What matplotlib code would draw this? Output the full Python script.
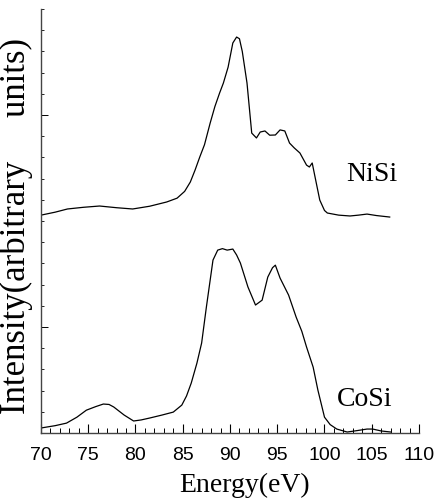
import matplotlib
matplotlib.use("Agg")
import matplotlib.pyplot as plt
from matplotlib.ticker import MultipleLocator, FixedLocator

# NiSi spectrum (upper curve), energy in eV, intensity in arbitrary units
nisi_energy = [70.0, 71.5, 72.8, 74.5, 76.2, 78.0, 79.7, 81.5, 83.3, 84.4, 85.2,
               85.8, 86.3, 86.8, 87.3, 87.9, 88.4, 88.9, 89.3, 89.8, 90.3, 90.7,
               91.0, 91.3, 91.8, 92.3, 92.8, 93.2, 93.7, 94.2, 94.8, 95.3, 95.8,
               96.3, 96.8, 97.4, 98.1, 98.4, 98.7, 99.0, 99.5, 100.0, 100.3,
               101.5, 102.7, 103.6, 104.5, 105.5, 106.9]
nisi_counts = [10.28, 10.42, 10.57, 10.65, 10.71, 10.63, 10.57, 10.70, 10.90, 11.08, 11.40,
               11.84, 12.40, 13.02, 13.60, 14.62, 15.40, 16.04, 16.51, 17.26, 18.40, 18.68,
               18.60, 18.00, 16.51, 14.15, 13.92, 14.20, 14.25, 14.05, 14.06, 14.30, 14.25,
               13.68, 13.45, 13.21, 12.64, 12.55, 12.74, 12.08, 10.99, 10.50, 10.38,
               10.28, 10.24, 10.28, 10.33, 10.26, 10.19]

# CoSi spectrum (lower curve)
cosi_energy = [70.0, 71.5, 72.7, 73.8, 74.8, 75.8, 76.6, 77.2, 77.7, 78.8, 79.8,
               80.6, 81.5, 82.8, 84.0, 84.9, 85.4, 85.9, 86.5, 87.0, 87.5, 88.2,
               88.7, 89.2, 89.7, 90.3, 90.7, 91.1, 91.9, 92.7, 93.4, 94.0, 94.5,
               94.8, 95.3, 96.2, 97.0, 97.6, 98.1, 98.8, 99.3, 100.0, 100.6,
               101.3, 102.4, 103.5, 104.5, 105.1, 106.0, 107.0]
cosi_counts = [0.24, 0.35, 0.47, 0.75, 1.08, 1.25, 1.37, 1.35, 1.23, 0.85, 0.57,
               0.62, 0.71, 0.85, 0.99, 1.32, 1.75, 2.36, 3.30, 4.25, 5.94, 8.16,
               8.63, 8.70, 8.63, 8.68, 8.40, 8.02, 6.89, 6.04, 6.27, 7.36, 7.80,
               7.92, 7.31, 6.51, 5.47, 4.80, 4.06, 3.11, 2.03, 0.75, 0.40,
               0.19, 0.05, 0.12, 0.19, 0.19, 0.10, 0.05]

sample_labels = ["NiSi", "CoSi"]
label_pos = [(105.0, 12.2), (104.3, 1.6)]

fig = plt.figure(figsize=(4.37, 5.03), dpi=100)
ax = fig.add_axes([0.0938, 0.139, 0.865, 0.843])

ax.plot(nisi_energy, nisi_counts, color="black", linewidth=0.9)
ax.plot(cosi_energy, cosi_counts, color="black", linewidth=0.9)

for name, (x, y) in zip(sample_labels, label_pos):
    ax.text(x, y, name, ha="center", va="center", fontsize=20,
            family="Liberation Serif")

ax.set_xlim(70, 110)
ax.set_ylim(0, 20)

ax.spines["top"].set_visible(False)
ax.spines["right"].set_visible(False)
for side in ("left", "bottom"):
    ax.spines[side].set_linewidth(1.0)
    ax.spines[side].set_color("#444444")

ax.xaxis.set_major_locator(MultipleLocator(5))
ax.xaxis.set_minor_locator(MultipleLocator(1))
ax.yaxis.set_major_locator(FixedLocator([5, 15]))
ax.yaxis.set_minor_locator(MultipleLocator(1))
ax.set_yticklabels([])

ax.tick_params(axis="x", which="major", direction="in", length=6.5, width=0.8, pad=10,
               labelsize=14)
ax.tick_params(axis="x", which="minor", direction="in", length=3.5, width=0.7)
ax.tick_params(axis="y", which="major", direction="in", length=5, width=0.7)
ax.tick_params(axis="y", which="minor", direction="in", length=2.5, width=0.6)
for lab in ax.get_xticklabels():
    lab.set_family("Liberation Sans")

fig.text(245 / 437, 1 - 485 / 503, "Energy(eV)", ha="center", va="center",
         fontsize=20, family="Liberation Serif")
fig.text(16 / 437, 1 - 226 / 503, "Intensity(arbitrary     units)", ha="center",
         va="center", rotation=90, fontsize=25, family="Liberation Serif")

fig.savefig("out.png", dpi=100)
